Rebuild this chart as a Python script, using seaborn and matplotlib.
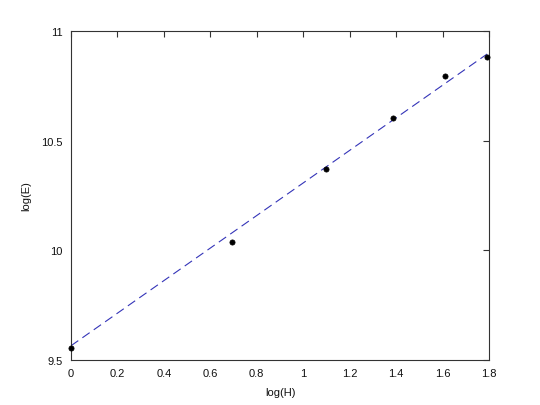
import numpy as np
import pandas as pd
import matplotlib
matplotlib.use("Agg")
import matplotlib.pyplot as plt
import seaborn as sns

# data
log_h = [0.0, 0.6931, 1.0986, 1.3863, 1.6094, 1.7918]
log_e = [9.553, 10.038, 10.371, 10.603, 10.796, 10.883]
fit_x = [0.0, 1.7918]
fit_y = [9.565, 10.895]
x_ticks = [0, 0.2, 0.4, 0.6, 0.8, 1, 1.2, 1.4, 1.6, 1.8]
x_tick_labels = ["0", "0.2", "0.4", "0.6", "0.8", "1", "1.2", "1.4", "1.6", "1.8"]
y_ticks = [9.5, 10, 10.5, 11]
y_tick_labels = ["9.5", "10", "10.5", "11"]

sns.set_style("white")
plt.rcParams['font.family'] = ['Liberation Sans', 'DejaVu Sans']

fig = plt.figure(figsize=(5.4, 4.06), dpi=100)
ax = fig.add_axes([71/540, 1-361/406, (489-71)/540, (361-32)/406])

pts = pd.DataFrame({"x": log_h, "y": log_e})
fit = pd.DataFrame({"x": fit_x, "y": fit_y})

sns.lineplot(data=fit, x="x", y="y", ax=ax, color="#3434b8", lw=0.8,
             dashes=False, linestyle=(0, (8, 4.5)))
sns.scatterplot(data=pts, x="x", y="y", ax=ax, color="black", s=14,
                edgecolor="black", linewidth=0.5, zorder=5, clip_on=False)

ax.set_xlim(0, 1.8)
ax.set_ylim(9.5, 11)
ax.set_xticks(x_ticks)
ax.set_xticklabels(x_tick_labels)
ax.set_yticks(y_ticks)
ax.set_yticklabels(y_tick_labels)
ax.tick_params(direction="in", length=4, width=0.8, labelsize=8,
               top=True, right=True, color="#333333", labelcolor="#111111", pad=6)
for s in ax.spines.values():
    s.set_color("#333333")
    s.set_linewidth(0.8)
ax.set_xlabel("log(H)", fontsize=8, labelpad=6, color="#111111")
ax.set_ylabel("log(E)", fontsize=8, labelpad=7, color="#111111")

fig.savefig("out.png", dpi=100)
